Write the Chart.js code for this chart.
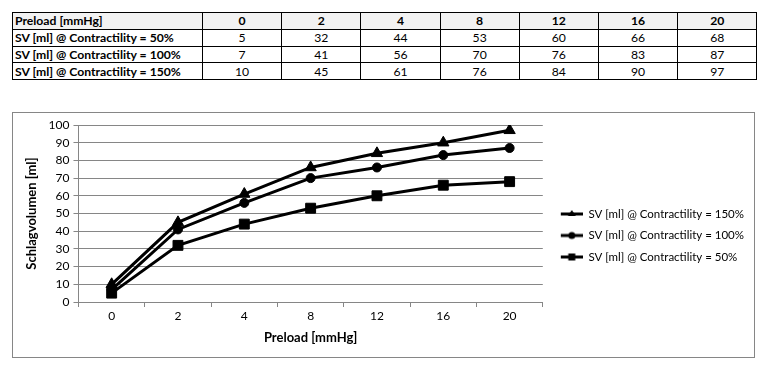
<!DOCTYPE html>
<html>
<head>
<meta charset="utf-8">
<script src="https://cdn.jsdelivr.net/npm/chart.js@4"></script>
<style>
  body { margin: 0; background: #fff; font-family: "Lato", sans-serif; }
  table {
    position: absolute; left: 12px; top: 12px;
    border-collapse: collapse; table-layout: fixed;
    font-size: 12.2px; color: #000;
  }
  td { border: 1px solid #000; height: 15.8px; padding: 0 2px; text-align: center; line-height: 15px; }
  td:first-child { text-align: left; font-weight: bold; }
  tr.head td { background: #f2f2f2; font-weight: bold; }
  #box {
    position: absolute; left: 12px; top: 112px;
    width: 741px; height: 244px; border: 1px solid #868686;
  }
</style>
</head>
<body>
<table id="tbl"></table>
<div id="box"><canvas id="chart"></canvas></div>
<script>
"use strict";

const preload = ["0", "2", "4", "8", "12", "16", "20"];
const sv50 = [5, 32, 44, 53, 60, 66, 68];
const sv100 = [7, 41, 56, 70, 76, 83, 87];
const sv150 = [10, 45, 61, 76, 84, 90, 97];
const label50 = "SV [ml] @ Contractility = 50%";
const label100 = "SV [ml] @ Contractility = 100%";
const label150 = "SV [ml] @ Contractility = 150%";

/**
 * Baut die Wertetabelle über dem Diagramm.
 */
function buildTable() {
  const tbl = document.getElementById("tbl");
  const rows = [
    ["Preload [mmHg]", preload, "head"],
    [label50, sv50, ""],
    [label100, sv100, ""],
    [label150, sv150, ""]
  ];
  let html = '<colgroup><col style="width:190px">' +
    preload.map(() => '<col style="width:79.2px">').join("") + '</colgroup>';
  rows.forEach(r => {
    html += '<tr class="' + r[2] + '"><td>' + r[0] + '</td>' +
      r[1].map(v => '<td>' + v + '</td>').join("") + '</tr>';
  });
  tbl.innerHTML = html;
}

/**
 * Legendensymbol: Linie mit Marker, links etwas Luft.
 */
function legendIcon(style) {
  const c = document.createElement("canvas");
  c.width = 30;
  c.height = 12;
  const g = c.getContext("2d");
  g.fillStyle = "#000";
  g.strokeStyle = "#000";
  g.lineWidth = 3;
  g.beginPath();
  g.moveTo(8, 6);
  g.lineTo(30, 6);
  g.stroke();
  g.beginPath();
  if (style === "triangle") {
    g.moveTo(19, 2); g.lineTo(23, 8); g.lineTo(15, 8); g.closePath();
  } else if (style === "circle") {
    g.arc(19, 6, 3.5, 0, Math.PI * 2);
  } else {
    g.rect(15.5, 2.5, 7, 7);
  }
  g.fill();
  return c;
}

function makeSet(label, data, style, radius) {
  return {
    label: label,
    data: data,
    borderColor: "#000",
    backgroundColor: "#000",
    borderWidth: 3,
    pointStyle: style,
    pointRadius: radius,
    pointHoverRadius: radius,
    pointBorderWidth: 1,
    pointBackgroundColor: "#000",
    tension: 0,
    icon: legendIcon(style)
  };
}

function createChart() {
  const font = { family: "Lato", size: 12 };
  const bold = { family: "Lato", size: 13, weight: "bold" };
  new Chart(document.getElementById("chart"), {
    type: "line",
    data: {
      labels: preload,
      datasets: [
        makeSet(label150, sv150, "triangle", 6.5),
        makeSet(label100, sv100, "circle", 4.5),
        makeSet(label50, sv50, "rect", 7)
      ]
    },
    options: {
      responsive: true,
      maintainAspectRatio: false,
      animation: false,
      layout: { padding: { left: 11, top: 12, right: 0, bottom: 11 } },
      plugins: {
        tooltip: { enabled: false },
        legend: {
          position: "right",
          maxWidth: 300,
          labels: {
            usePointStyle: true,
            pointStyleWidth: 30,
            boxHeight: 10,
            padding: 10,
            color: "#000",
            font: { family: "Lato", size: 11.5 },
            generateLabels: chart => chart.data.datasets.map((ds, i) => ({
              text: ds.label,
              pointStyle: ds.icon,
              datasetIndex: i,
              fontColor: "#000",
              lineWidth: 0,
              strokeStyle: "#000",
              fillStyle: "#000"
            }))
          }
        }
      },
      scales: {
        x: {
          offset: true,
          grid: {
            offset: true,
            drawOnChartArea: false,
            color: "#868686",
            tickLength: 5
          },
          border: { color: "#868686" },
          ticks: { color: "#000", font: font, padding: 2 },
          title: {
            display: true,
            text: "Preload [mmHg]",
            color: "#000",
            font: bold,
            padding: { top: 5, bottom: 0 }
          }
        },
        y: {
          min: 0,
          max: 100,
          ticks: { stepSize: 10, autoSkip: false, color: "#000", font: font, padding: 4 },
          grid: { color: "#868686", tickLength: 5 },
          border: { color: "#868686" },
          title: {
            display: true,
            text: "Schlagvolumen [ml]",
            color: "#000",
            font: bold,
            padding: { top: 0, bottom: 5 }
          }
        }
      }
    }
  });
}

buildTable();
Promise.all([
  document.fonts.load("12px Lato"),
  document.fonts.load("bold 13px Lato")
]).then(createChart, createChart);
</script>
</body>
</html>
